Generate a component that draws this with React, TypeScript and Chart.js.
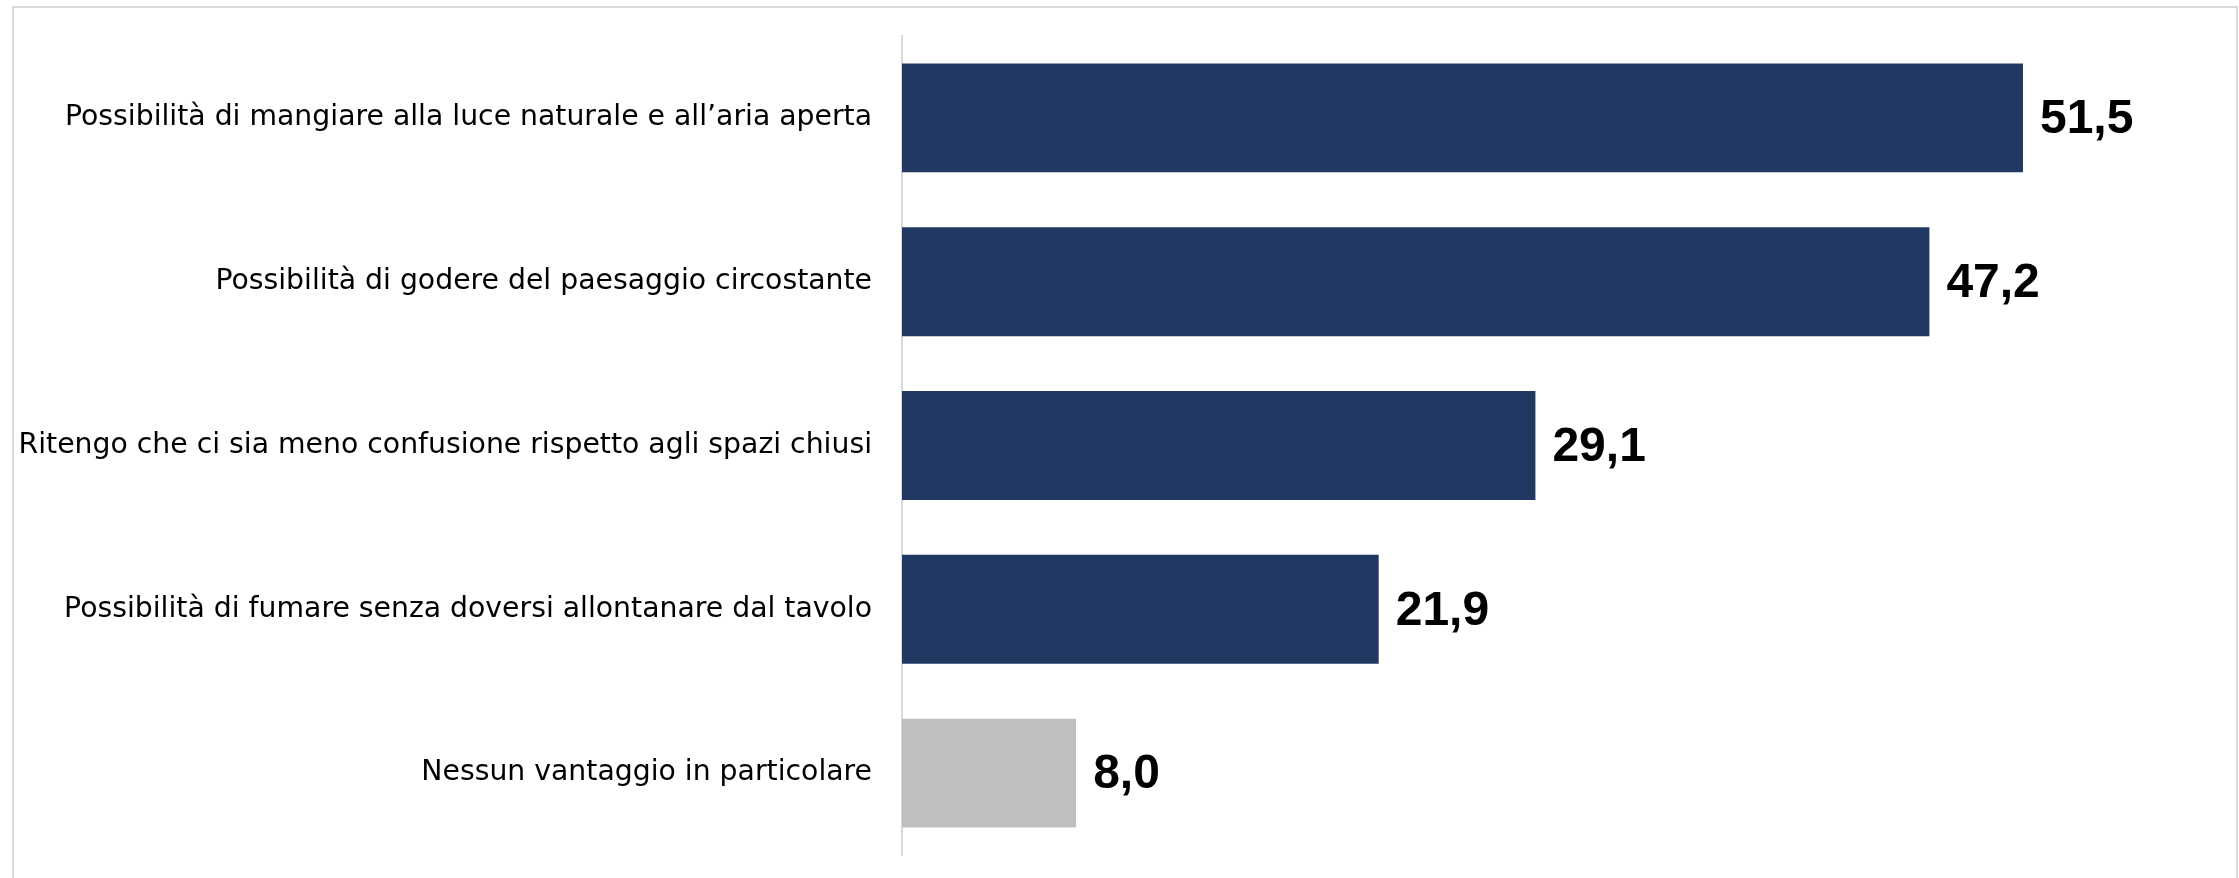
import React, { useEffect, useRef } from "react";
import { Chart, registerables } from "chart.js";

Chart.register(...registerables);

const categories: string[] = [
  "Possibilità di mangiare alla luce naturale e all’aria aperta",
  "Possibilità di godere del paesaggio circostante",
  "Ritengo che ci sia meno confusione rispetto agli spazi chiusi",
  "Possibilità di fumare senza doversi allontanare dal tavolo",
  "Nessun vantaggio in particolare",
];

const values: number[] = [51.5, 47.2, 29.1, 21.9, 8.0];

const barColors: string[] = ["#213862", "#213862", "#213862", "#213862", "#BFBFBF"];

const valueLabels = {
  id: "valueLabels",
  afterDatasetsDraw(chart: any) {
    const { ctx } = chart;
    const meta = chart.getDatasetMeta(0);
    ctx.save();
    ctx.font = 'bold 48px "Liberation Sans", Arial, sans-serif';
    ctx.fillStyle = "#000000";
    ctx.textAlign = "left";
    ctx.textBaseline = "middle";
    meta.data.forEach((el: any, i: number) => {
      const txt = values[i].toFixed(1).replace(".", ",");
      ctx.fillText(txt, el.x + 17, el.y + 2);
    });
    ctx.restore();
  },
};

export default function App() {
  const ref = useRef<HTMLCanvasElement | null>(null);

  useEffect(() => {
    if (!ref.current) return;
    const chart = new Chart(ref.current, {
      type: "bar",
      data: {
        labels: categories,
        datasets: [
          {
            data: values,
            backgroundColor: barColors,
            borderWidth: 0,
            categoryPercentage: 1,
            barPercentage: 0.665,
          },
        ],
      },
      options: {
        indexAxis: "y",
        responsive: false,
        animation: false,
        devicePixelRatio: 1,
        layout: { padding: { left: 0, top: 36, right: 31, bottom: 23 } },
        plugins: {
          legend: { display: false },
          tooltip: { enabled: false },
        },
        scales: {
          x: {
            type: "linear",
            min: 0,
            max: 60,
            display: false,
          },
          y: {
            type: "category",
            grid: {
              display: true,
              color: "rgba(0,0,0,0)",
              drawOnChartArea: false,
              drawTicks: true,
              tickLength: 30,
            },
            border: { display: true, color: "#d9d9d9", width: 2 },
            ticks: {
              color: "#000000",
              padding: 0,
              font: { family: '"DejaVu Sans", sans-serif', size: 28.3 },
            },
            afterFit: (s: any) => {
              s.width = 902;
            },
          },
        },
      },
      plugins: [valueLabels],
    });
    return () => chart.destroy();
  }, []);

  return (
    <div style={{ position: "absolute", left: 0, top: 0, width: 2239, height: 878, overflow: "hidden", background: "#ffffff" }}>
      <div
        style={{
          position: "absolute",
          left: 12,
          top: 6,
          width: 2226,
          height: 900,
          border: "2px solid #d9d9d9",
          boxSizing: "border-box",
        }}
      />
      <canvas ref={ref} width={2239} height={878} style={{ position: "absolute", left: 0, top: 0 }} />
    </div>
  );
}
